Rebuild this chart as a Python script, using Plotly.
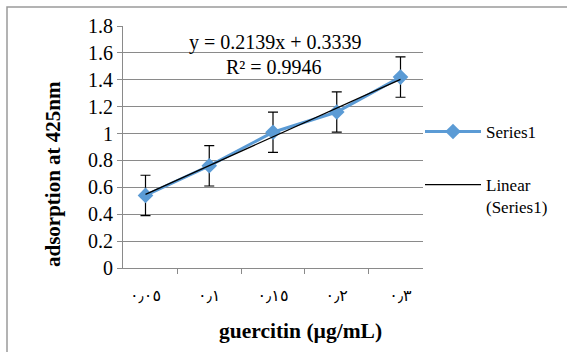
import numpy as np
import plotly.graph_objects as go

categories = ["٠٫٠٥", "٠٫١", "٠٫١٥", "٠٫٢", "٠٫٣"]
values = [0.54, 0.76, 1.01, 1.16, 1.42]
errors = [0.15, 0.15, 0.15, 0.15, 0.15]
y_ticks = [0, 0.2, 0.4, 0.6, 0.8, 1, 1.2, 1.4, 1.6, 1.8]
slope, intercept = 0.2139, 0.3339  # as printed on the chart

idx = np.arange(1, len(values) + 1)
trend = [slope * i + intercept for i in idx]

W, H = 567, 352
L, R, T, B = 123, 144, 26, 84
pw, ph = W - L - R, H - T - B

FONT = "Liberation Serif"
BLUE = "#5B9BD5"
GRID = "#8a8a8a"


def px(x):
    return (x - L) / pw


def py(y):
    return (T + ph - y) / ph


fig = go.Figure()
fig.add_trace(go.Scatter(
    x=categories, y=values, name="Series1", mode="lines+markers", legendgroup="s",
    line=dict(color=BLUE, width=3),
    marker=dict(symbol="diamond", size=12, color=BLUE),
    error_y=dict(type="data", array=errors, visible=True, color="black", thickness=1.2, width=5),
))
fig.add_trace(go.Scatter(
    x=categories, y=trend, name="Linear<br>(Series1)", mode="lines", legendgroup="t",
    line=dict(color="black", width=1.3),
))


def note(x, y, text, size, angle=0):
    fig.add_annotation(x=px(x), y=py(y), xref="paper", yref="paper",
                       xanchor="center", yanchor="middle", textangle=angle,
                       text=text, showarrow=False,
                       font=dict(family=FONT, size=size, color="black"))


note(275, 42, "y = 0.2139x + 0.3339", 20)
note(274, 67, "R² = 0.9946", 20)
note(53, 174, "<b>adsorption at 425nm</b>", 21, -90)
note(300, 331, "<b>guercitin (µg/mL)</b>", 21.5)

# outer chart border
fig.add_shape(type="rect", xref="paper", yref="paper",
              x0=px(7), x1=px(W + 10), y0=py(H + 10), y1=py(7),
              line=dict(color="#9a9a9a", width=1.5), layer="below")

fig.update_layout(
    width=W, height=H,
    margin=dict(l=L, r=R, t=T, b=B, autoexpand=False),
    paper_bgcolor="white", plot_bgcolor="white",
    font=dict(family=FONT, size=16, color="black"),
    showlegend=True,
    legend=dict(x=px(420), y=py(114), xanchor="left", yanchor="top",
                font=dict(family=FONT, size=17, color="black"),
                tracegroupgap=28, itemwidth=56, valign="top",
                bgcolor="rgba(0,0,0,0)"),
    xaxis=dict(type="category", tickson="boundaries", ticks="outside", ticklen=5,
               tickcolor=GRID, showline=True, linecolor=GRID, linewidth=1,
               showgrid=False, ticklabelstandoff=13,
               tickfont=dict(family="DejaVu Sans, Noto Sans", size=16)),
    yaxis=dict(range=[0, 1.8], tickvals=y_ticks, ticktext=[f"{v:g}" for v in y_ticks],
               ticks="outside", ticklen=5, tickcolor=GRID,
               showline=True, linecolor=GRID, linewidth=1,
               showgrid=True, gridcolor=GRID, gridwidth=1, zeroline=False,
               tickfont=dict(family=FONT, size=20)),
)

fig.write_html("out.html", config={"displayModeBar": False},
               post_script="document.body.style.margin='0';")
